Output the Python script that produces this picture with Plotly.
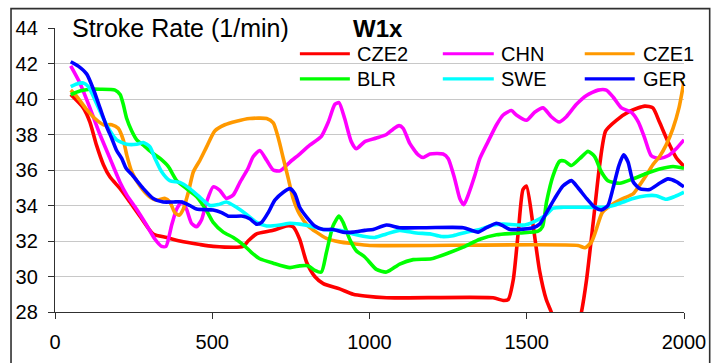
import plotly.graph_objects as go

# ---------------- data ----------------
series_names = ["CZE2", "CHN", "CZE1", "BLR", "SWE", "GER"]
series_colors = ["#FF0000", "#FF00FF", "#FF9900", "#00FF00", "#00FFFF", "#0000FF"]

cze2_x = [50, 90, 111, 132, 154, 175, 207, 238, 270, 312, 355, 397, 461, 503, 598, 614, 641, 694, 736, 757,
          778, 800, 826, 853, 905, 948, 985, 1054, 1393, 1425, 1441, 1457, 1473, 1488, 1499, 1520, 1541, 1562,
          1578, 1600, 1630, 1655, 1674, 1690, 1711, 1732, 1751, 1785, 1827, 1875, 1901, 1922, 1949, 1975, 2000]
cze2_y = [40.25, 39.5, 38.7, 37.4, 36.3, 35.6, 34.95, 34.2, 33.4, 32.4, 32.2, 32.0, 31.8, 31.7, 31.7, 32.0, 32.4,
          32.6, 32.85, 32.8, 32.1, 30.8, 30.0, 29.6, 29.3, 29.0, 28.9, 28.8, 28.8, 28.65, 28.7, 29.8, 32.5, 34.9,
          35.1, 32.9, 30.3, 28.7, 28.0, 26.8, 26.0, 26.6, 28.0, 29.8, 33.0, 36.3, 38.2, 38.8, 39.3, 39.6, 39.5,
          38.7, 37.6, 36.7, 36.2]

chn_x = [50, 79, 111, 143, 175, 207, 228, 259, 291, 318, 339, 353, 371, 387, 403, 418, 434, 450, 466, 482, 503,
         524, 545, 567, 588, 614, 630, 651, 673, 694, 715, 747, 778, 810, 847, 869, 890, 903, 921, 942, 958, 985,
         1022, 1054, 1075, 1094, 1107, 1128, 1155, 1171, 1192, 1234, 1250, 1271, 1287, 1300, 1314, 1335, 1351,
         1377, 1404, 1425, 1451, 1467, 1499, 1525, 1552, 1578, 1603, 1626, 1658, 1690, 1727, 1753, 1775, 1801,
         1833, 1855, 1875, 1896, 1922, 1949, 1975, 2000]
chn_y = [41.86, 40.9, 39.5, 38.0, 36.65, 35.3, 34.6, 33.8, 32.9, 32.1, 31.7, 31.7, 32.9, 33.8, 34.2, 33.8, 33.0,
         32.8, 33.2, 34.2, 35.05, 34.85, 34.4, 34.6, 35.3, 36.1, 36.75, 37.1, 36.55, 36.0, 35.95, 36.45, 36.9,
         37.4, 37.9, 38.7, 39.7, 39.8, 38.9, 37.6, 37.2, 37.6, 37.8, 38.0, 38.3, 38.5, 38.35, 37.5, 36.85, 36.7,
         36.9, 36.9, 36.65, 35.5, 34.4, 34.05, 34.6, 35.7, 36.65, 37.6, 38.55, 39.1, 39.35, 39.1, 38.8, 39.25,
         39.5, 39.0, 38.7, 39.0, 39.7, 40.2, 40.5, 40.5, 40.1, 39.5, 39.25, 38.7, 37.8, 36.8, 36.65, 36.8, 37.2,
         37.7]

cze1_x = [50, 69, 101, 127, 154, 180, 201, 217, 228, 244, 270, 297, 323, 350, 365, 381, 395, 408, 424, 440, 461,
          482, 508, 540, 577, 619, 673, 694, 710, 726, 742, 757, 778, 805, 831, 863, 905, 948, 1001, 1663, 1685,
          1706, 1722, 1740, 1775, 1807, 1838, 1859, 1880, 1901, 1922, 1943, 1965, 1984, 2000]
cze1_y = [40.5, 40.15, 39.4, 38.9, 38.55, 38.55, 38.35, 37.7, 36.85, 35.9, 35.1, 34.55, 34.3, 34.4, 34.2, 33.6,
          33.45, 33.8, 34.75, 35.9, 36.55, 37.3, 38.2, 38.55, 38.75, 38.9, 38.9, 38.65, 37.8, 36.65, 35.5, 34.4,
          33.5, 32.85, 32.5, 32.15, 31.95, 31.85, 31.75, 31.75, 31.62, 31.95, 32.7, 33.6, 34.1, 34.4, 34.65, 35.15,
          35.7, 36.3, 36.75, 37.4, 38.35, 39.5, 41.0]

blr_x = [50, 79, 111, 143, 191, 207, 217, 228, 244, 260, 281, 307, 334, 360, 387, 418, 450, 482, 503, 535, 567,
         598, 625, 651, 694, 747, 778, 805, 826, 847, 863, 884, 903, 916, 937, 958, 985, 1022, 1054, 1096, 1139,
         1197, 1255, 1298, 1351, 1404, 1478, 1536, 1550, 1563, 1584, 1605, 1621, 1642, 1669, 1695, 1716, 1737,
         1758, 1796, 1838, 1880, 1922, 1965, 2000]
blr_y = [40.25, 40.45, 40.55, 40.55, 40.5, 40.25, 39.7, 38.9, 38.2, 37.7, 37.4, 37.0, 36.65, 36.2, 35.4, 34.95,
         34.5, 33.7, 33.05, 32.5, 32.2, 31.8, 31.35, 31.0, 30.75, 30.5, 30.6, 30.6, 30.35, 30.25, 31.35, 32.85,
         33.4, 33.05, 32.1, 31.45, 31.1, 30.4, 30.25, 30.7, 30.95, 31.0, 31.35, 31.65, 32.1, 32.35, 32.45, 32.55,
         32.8, 34.2, 35.7, 36.5, 36.5, 36.25, 36.65, 37.05, 36.75, 35.9, 35.4, 35.25, 35.5, 35.8, 36.05, 36.2, 36.1]

swe_x = [50, 69, 90, 106, 127, 154, 175, 196, 228, 260, 281, 302, 318, 339, 365, 397, 429, 455, 493, 519, 545,
         577, 609, 641, 673, 715, 747, 778, 810, 853, 905, 948, 985, 1017, 1054, 1096, 1149, 1192, 1229, 1266,
         1308, 1351, 1393, 1425, 1494, 1541, 1563, 1584, 1616, 1743, 1775, 1807, 1838, 1880, 1912, 1943, 1970,
         2000]
swe_y = [40.7, 40.85, 40.9, 40.7, 39.95, 38.9, 38.2, 37.7, 37.45, 37.45, 37.55, 37.3, 36.65, 35.9, 35.4, 35.3,
         34.95, 34.55, 34.0, 34.05, 34.2, 33.9, 33.5, 33.05, 32.85, 32.9, 33.0, 32.95, 32.85, 32.65, 32.6, 32.4,
         32.25, 32.2, 32.4, 32.6, 32.45, 32.4, 32.25, 32.3, 32.5, 32.65, 32.9, 32.95, 32.9, 33.25, 33.5, 33.85,
         33.9, 33.9, 34.0, 34.2, 34.4, 34.55, 34.55, 34.35, 34.5, 34.75]

ger_x = [50, 74, 101, 122, 143, 164, 180, 196, 212, 226, 244, 260, 281, 312, 344, 376, 403, 429, 450, 503, 530,
         551, 598, 619, 641, 657, 678, 699, 726, 747, 763, 778, 800, 826, 853, 884, 916, 948, 985, 1012, 1054,
         1096, 1181, 1298, 1324, 1345, 1372, 1404, 1425, 1446, 1472, 1520, 1541, 1563, 1589, 1615, 1642, 1663,
         1690, 1716, 1737, 1758, 1774, 1793, 1808, 1822, 1838, 1859, 1891, 1922, 1949, 1975, 2000]
ger_y = [42.1, 41.85, 41.4, 40.55, 39.5, 38.45, 37.8, 37.1, 36.65, 36.1, 35.75, 35.4, 34.95, 34.4, 34.2, 34.2,
         34.2, 34.0, 33.8, 33.75, 33.6, 33.4, 33.4, 33.25, 32.95, 33.05, 33.6, 34.3, 34.75, 34.95, 34.65, 33.9,
         33.35, 32.85, 32.65, 32.65, 32.5, 32.5, 32.6, 32.65, 32.9, 32.75, 32.75, 32.75, 32.6, 32.5, 32.75, 33.0,
         32.85, 32.65, 32.65, 32.75, 32.95, 33.6, 34.4, 35.1, 35.4, 35.0, 34.4, 33.9, 33.75, 34.0, 34.95, 36.25,
         36.85, 36.45, 35.35, 34.95, 34.9, 35.25, 35.5, 35.35, 35.05]

series_x = [cze2_x, chn_x, cze1_x, blr_x, swe_x, ger_x]
series_y = [cze2_y, chn_y, cze1_y, blr_y, swe_y, ger_y]

x_ticks = [0, 500, 1000, 1500, 2000]
y_ticks = [28, 30, 32, 34, 36, 38, 40, 42, 44]

chart_title = "Stroke Rate (1/min)"
legend_title = "W1x"

# ---------------- layout helpers ----------------
FONT = "Liberation Sans, Arial, sans-serif"
W, H = 724, 363
PL, PR, PT, PB = 55.0, 684.3, 28.3, 311.7


def fx(p):
    return (p - PL) / (PR - PL)


def fy(p):
    return (PB - p) / (PB - PT)


fig = go.Figure()
for name, col, xs, ys in zip(series_names, series_colors, series_x, series_y):
    fig.add_trace(go.Scatter(x=xs, y=ys, mode="lines", name=name,
                             line=dict(color=col, width=3.6, shape="spline", smoothing=0.6)))

shapes = []
# chart border
shapes.append(dict(type="rect", xref="paper", yref="paper", x0=fx(11), x1=fx(710), y0=fy(370), y1=fy(9),
                   line=dict(color="#303030", width=1.6), fillcolor="rgba(0,0,0,0)", layer="above"))
# legend background (hides gridline)
shapes.append(dict(type="rect", xref="paper", yref="paper", x0=fx(283), x1=fx(684), y0=fy(92), y1=fy(41),
                   line=dict(width=0), fillcolor="white", layer="between"))

leg_rows = [54.0, 79.0]
leg_cols = [(300, 350, 355), (443, 494, 499), (585, 635, 641)]
annotations = []
for i, (name, col) in enumerate(zip(series_names, series_colors)):
    r, c = divmod(i, 3)
    x0, x1, xt = leg_cols[c]
    yy = leg_rows[r]
    shapes.append(dict(type="line", xref="paper", yref="paper", x0=fx(x0), x1=fx(x1), y0=fy(yy), y1=fy(yy),
                       line=dict(color=col, width=3.2), layer="above"))
    annotations.append(dict(xref="paper", yref="paper", x=fx(xt), y=fy(yy + 0.5), text=name, showarrow=False,
                            xanchor="left", yanchor="middle", font=dict(family=FONT, size=20, color="black")))

annotations.append(dict(xref="paper", yref="paper", x=fx(70), y=fy(28), text=chart_title, showarrow=False,
                        xanchor="left", yanchor="middle", font=dict(family=FONT, size=25, color="black")))
annotations.append(dict(xref="paper", yref="paper", x=fx(351), y=fy(29), text="<b>" + legend_title + "</b>",
                        showarrow=False, xanchor="left", yanchor="middle",
                        font=dict(family=FONT, size=24, color="black")))

fig.update_layout(
    width=W, height=H, autosize=False,
    margin=dict(l=PL, r=W - PR, t=PT, b=H - PB, pad=0, autoexpand=False),
    paper_bgcolor="white", plot_bgcolor="white",
    showlegend=False,
    shapes=shapes, annotations=annotations,
    font=dict(family=FONT, size=20, color="black"),
)
fig.update_xaxes(range=[0, 2000], tickvals=x_ticks, ticktext=[str(v) for v in x_ticks], automargin=False,
                 showgrid=False, zeroline=False, showline=True, linecolor="#303030", linewidth=1.4,
                 ticks="outside", ticklen=6, tickwidth=1.4, tickcolor="#303030",
                 tickfont=dict(family=FONT, size=20, color="black"), ticklabelstandoff=6)
fig.update_yaxes(range=[28, 44], tickvals=y_ticks, ticktext=[str(v) for v in y_ticks], automargin=False,
                 showgrid=True, gridcolor="#C8C8C8", gridwidth=1.4, zeroline=False,
                 showline=True, linecolor="#303030", linewidth=1.4,
                 ticks="outside", ticklen=6, tickwidth=1.4, tickcolor="#303030",
                 tickfont=dict(family=FONT, size=20, color="black"), ticklabelstandoff=6)

fig.write_html("out.html")
